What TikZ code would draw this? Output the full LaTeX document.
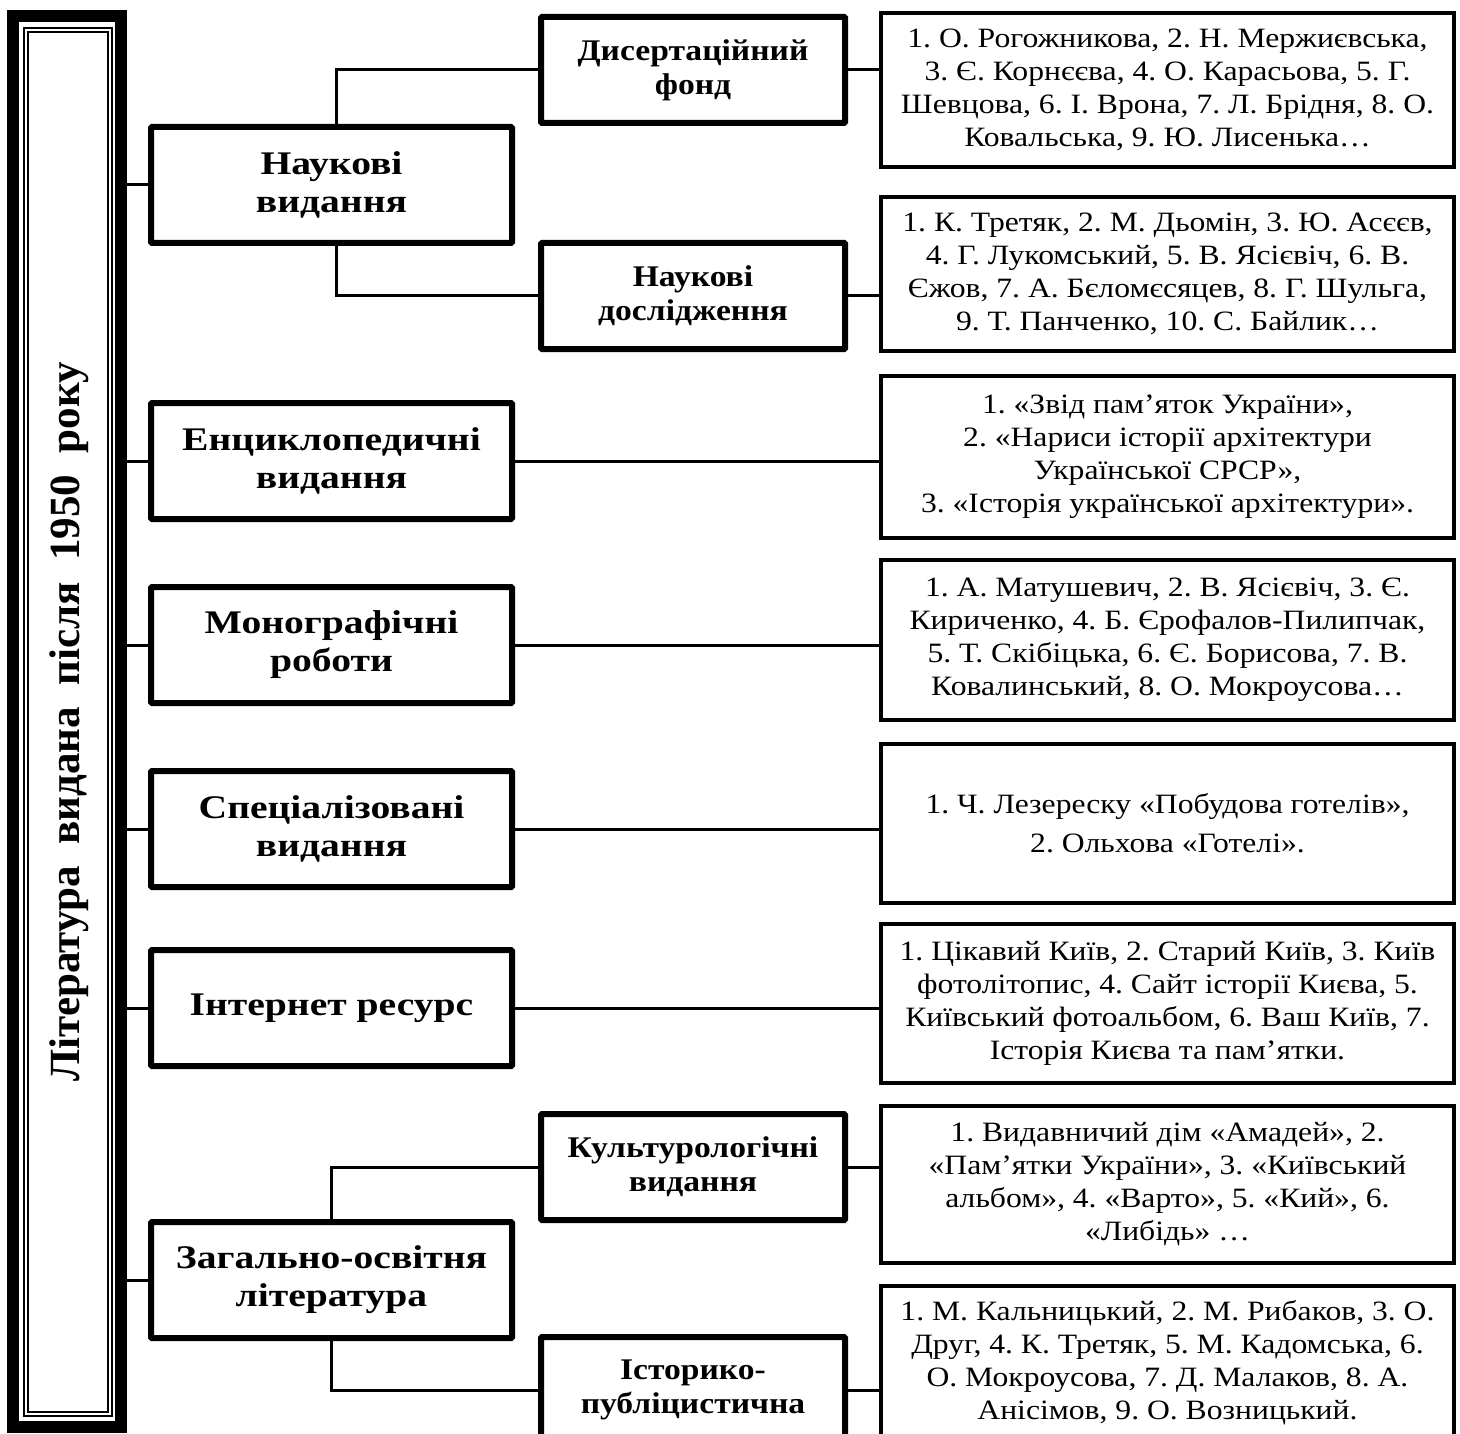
\documentclass[tikz,border=0pt]{standalone}
\usepackage{fontspec}
\setmainfont{Liberation Serif}
\newfontfamily\topfont[FakeStretch=1.2]{Liberation Serif}
\newfontfamily\subfont[FakeStretch=1.12]{Liberation Serif}
\newfontfamily\listfont[FakeStretch=1.13]{Liberation Serif}
\frenchspacing

\begin{document}
\begin{tikzpicture}[x=1pt, y=-1pt,
    topbox/.style={draw, line width=6pt, rounded corners=1pt, minimum width=361pt,
      minimum height=116pt, align=center, inner sep=3pt,
      font=\topfont\bfseries\fontsize{33}{38}\selectfont},
    subbox/.style={draw, line width=6pt, rounded corners=1pt, minimum width=304pt,
      minimum height=106pt, align=center, inner sep=3pt,
      font=\subfont\bfseries\fontsize{30}{34}\selectfont},
    listbox/.style={draw, line width=4pt, minimum width=573pt, minimum height=154pt,
      align=center, inner sep=3pt, font=\listfont\fontsize{28}{33}\selectfont},
    link/.style={line width=3pt}]
    \useasboundingbox (0,0) rectangle (1460,1434);
    \clip (0,0) rectangle (1460,1434);

    % Left frame
    \node[draw, line width=12pt, minimum width=108pt, minimum height=1411pt] (main) at (67,721.5) {};
    \draw[line width=2pt] ([shift={(17,18)}]main.north west) rectangle ([shift={(-15,-17)}]main.south east);
    \draw[line width=2pt] ([shift={(21,22)}]main.north west) rectangle ([shift={(-19,-21)}]main.south east);
    \node[rotate=90, font=\bfseries\fontsize{43}{48}\selectfont] (title) at (69,722)
      {Література~~видана~~після~~1950~~року};

    % First level
    \node[topbox] (nauk) at (331.5,185) {Наукові\\видання};
    \node[topbox] (encycl) at (331.5,461) {Енциклопедичні\\видання};
    \node[topbox] (mono) at (331.5,645) {Монографічні\\роботи};
    \node[topbox] (spec) at (331.5,829) {Спеціалізовані\\видання};
    \node[topbox] (inet) at (331.5,1008) {Інтернет ресурс};
    \node[topbox] (zag) at (331.5,1280) {Загально-освітня\\література};

    % Second level
    \node[subbox] (dys) at (693,70) {Дисертаційний\\фонд};
    \node[subbox] (ndos) at (693,296) {Наукові\\дослідження};
    \node[subbox] (kult) at (693,1167) {Культурологічні\\видання};
    \node[subbox] (ist) at (693,1390) {Історико-\\публіцистична};

    % Lists
    \node[listbox] (l1) at (1167.5,90) {1. О. Рогожникова, 2. Н. Мержиєвська,\\3. Є. Корнєєва, 4. О. Карасьова, 5. Г.\\Шевцова, 6. І. Врона, 7. Л. Брідня, 8. О.\\Ковальська, 9. Ю. Лисенька…};
    \node[listbox] (l2) at (1167.5,274) {1. К. Третяк, 2. М. Дьомін, 3. Ю. Асєєв,\\4. Г. Лукомський, 5. В. Ясієвіч, 6. В.\\Єжов, 7. А. Бєломєсяцев, 8. Г. Шульга,\\9. Т. Панченко, 10. С. Байлик…};
    \node[listbox, minimum height=162pt] (l3) at (1167.5,457) {1. «Звід пам’яток України»,\\2. «Нариси історії архітектури\\Української СРСР»,\\3. «Історія української архітектури».};
    \node[listbox, minimum height=160pt] (l4) at (1167.5,640) {1. А. Матушевич, 2. В. Ясієвіч, 3. Є.\\Кириченко, 4. Б. Єрофалов-Пилипчак,\\5. Т. Скібіцька, 6. Є. Борисова, 7. В.\\Ковалинський, 8. О. Мокроусова…};
    \node[listbox, minimum height=159pt] (l5) at (1167.5,823.5) {1. Ч. Лезереску «Побудова готелів»,\\[6pt]2. Ольхова «Готелі».};
    \node[listbox, minimum height=159pt] (l6) at (1167.5,1003.5) {1. Цікавий Київ, 2. Старий Київ, 3. Київ\\фотолітопис, 4. Сайт історії Києва, 5.\\Київський фотоальбом, 6. Ваш Київ, 7.\\Історія Києва та пам’ятки.};
    \node[listbox, minimum height=157pt] (l7) at (1167.5,1184.5) {1. Видавничий дім «Амадей», 2.\\«Пам’ятки України», 3. «Київський\\альбом», 4. «Варто», 5. «Кий», 6.\\«Либідь» …};
    \node[listbox] (l8) at (1167.5,1363) {1. М. Кальницький, 2. М. Рибаков, 3. О.\\Друг, 4. К. Третяк, 5. М. Кадомська, 6.\\О. Мокроусова, 7. Д. Малаков, 8. А.\\Анісімов, 9. О. Возницький.};

    % Connectors
    \foreach \n in {nauk,encycl,mono,spec,inet,zag}
      \draw[link] (main.east |- \n.west) -- (\n.west);
    \draw[link] ([xshift=5pt]nauk.north) |- (dys.west);
    \draw[link] ([xshift=5pt]nauk.south) |- (ndos.west);
    \draw[link] (zag.north) |- (kult.west);
    \draw[link] (zag.south) |- (ist.west);
    \foreach \a/\b in {dys/l1, ndos/l2, encycl/l3, mono/l4, spec/l5, inet/l6, kult/l7, ist/l8}
      \draw[link] (\a.east) -- (\a.east -| \b.west);
\end{tikzpicture}
\end{document}
